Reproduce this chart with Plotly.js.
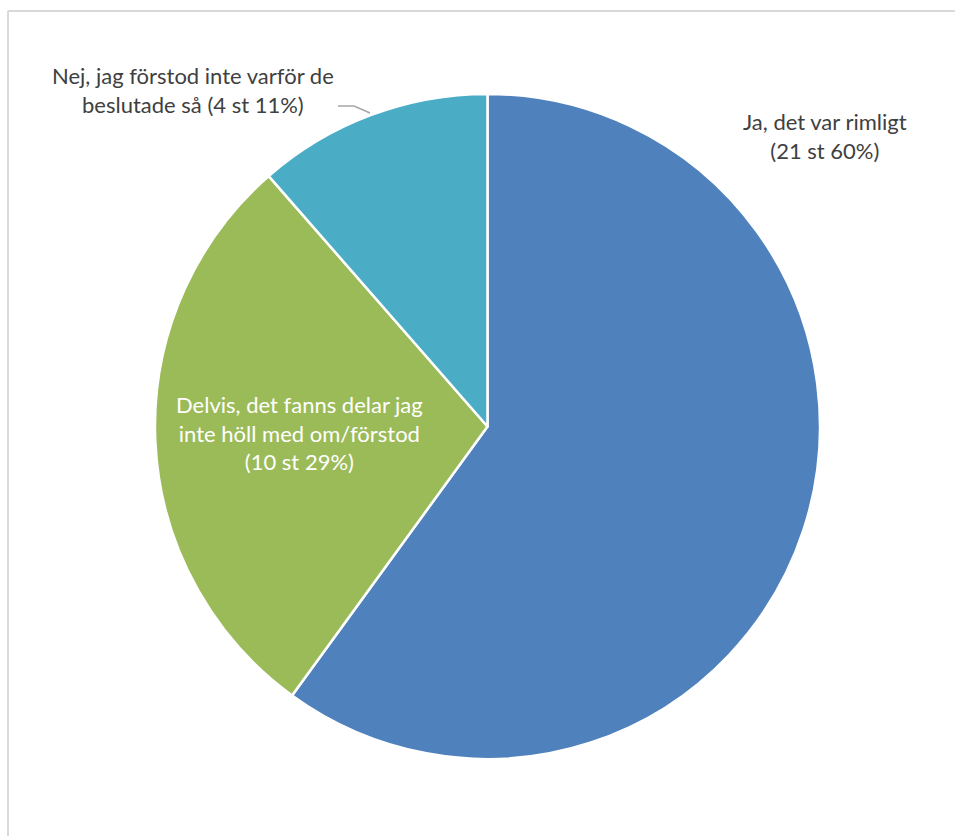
<!DOCTYPE html>
<html>
<head>
<meta charset="utf-8">
<script src="https://cdn.plot.ly/plotly-3.0.1.min.js"></script>
<style>
html,body{margin:0;padding:0;background:#fff;}
#chart{width:955px;height:836px;}
</style>
</head>
<body>
<div id="chart"></div>
<script>
const labels = ["Ja, det var rimligt", "Delvis, det fanns delar jag<br>inte höll med om/förstod", "Nej, jag förstod inte varför de<br>beslutade så"];
const counts = [21, 10, 4];
const percents = ["60%", "29%", "11%"];
const colors = ["#4F81BD", "#9BBB59", "#4BACC6"];

const W = 955, H = 836;
const px = x => x / W;
const py = y => 1 - y / H;

const labelText = [
  labels[0] + "<br>(" + counts[0] + " st " + percents[0] + ")",
  labels[1] + "<br>(" + counts[1] + " st " + percents[1] + ")",
  labels[2] + " (" + counts[2] + " st " + percents[2] + ")"
];

const trace = {
  type: "pie",
  labels: labels,
  values: counts,
  sort: false,
  direction: "clockwise",
  rotation: 0,
  marker: {colors: colors, line: {color: "#ffffff", width: 2.5}},
  textinfo: "none",
  hoverinfo: "none",
  showlegend: false,
  domain: {x: [px(155), px(820)], y: [py(759), py(94)]}
};

const font = {family: "Lato, 'Open Sans', sans-serif", size: 22, color: "#404040"};

const layout = {
  width: W, height: H,
  margin: {l: 0, r: 0, t: 0, b: 0},
  paper_bgcolor: "#ffffff",
  showlegend: false,
  annotations: [
    {text: labelText[0], x: px(825), y: py(136), xref: "paper", yref: "paper", showarrow: false, font: font, align: "center", xanchor: "center", yanchor: "middle"},
    {text: labelText[1], x: px(299), y: py(433), xref: "paper", yref: "paper", showarrow: false, font: Object.assign({}, font, {color: "#ffffff"}), align: "center", xanchor: "center", yanchor: "middle"},
    {text: labelText[2], x: px(193), y: py(90), xref: "paper", yref: "paper", showarrow: false, font: font, align: "center", xanchor: "center", yanchor: "middle"}
  ],
  shapes: [
    {type: "line", xref: "paper", yref: "paper", x0: px(8), y0: py(11), x1: px(8), y1: py(836), line: {color: "#d9d9d9", width: 2}},
    {type: "line", xref: "paper", yref: "paper", x0: px(8), y0: py(11), x1: px(955), y1: py(11), line: {color: "#d9d9d9", width: 2}},
    {type: "path", xref: "paper", yref: "paper", path: "M " + px(338) + "," + py(106) + " L " + px(354) + "," + py(106) + " L " + px(370) + "," + py(113), line: {color: "#a6a6a6", width: 1.5}}
  ]
};

Plotly.newPlot("chart", [trace], layout, {displayModeBar: false, staticPlot: true});
</script>
</body>
</html>
